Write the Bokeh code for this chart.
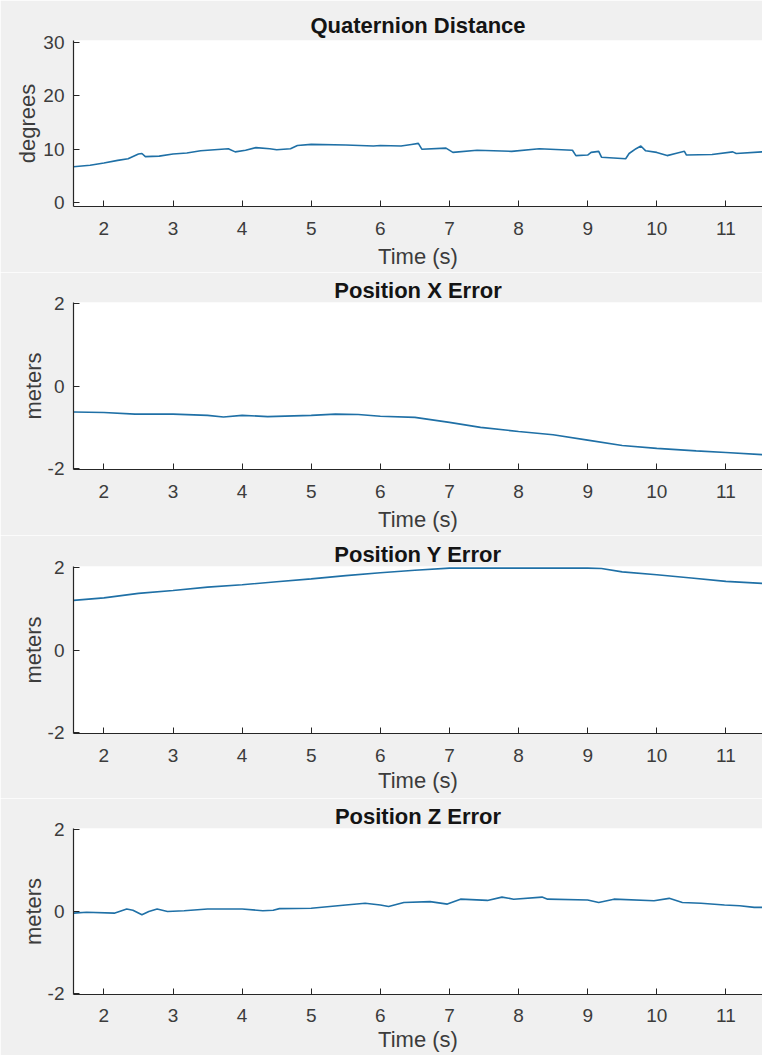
from bokeh.plotting import figure
from bokeh.layouts import column
from bokeh.models import Range1d, FixedTicker
from bokeh.embed import file_html
from bokeh.resources import INLINE

# ---- data ----
titles = ["Quaternion Distance", "Position X Error", "Position Y Error", "Position Z Error"]
ylabels = ["degrees", "meters", "meters", "meters"]
x_label = "Time (s)"
x_ticks = [2, 3, 4, 5, 6, 7, 8, 9, 10, 11]
q_ticks = [0, 10, 20, 30]
pos_ticks = [-2, 0, 2]

q_t = [1.56, 1.8, 2.0, 2.2, 2.35, 2.5, 2.55, 2.6, 2.8, 3.0, 3.2, 3.4, 3.6, 3.8, 3.9, 4.05,
       4.2, 4.4, 4.5, 4.7, 4.8, 5.0, 5.5, 5.9, 6.0, 6.3, 6.45, 6.55, 6.6, 6.95, 7.05, 7.4,
       7.9, 8.3, 8.78, 8.83, 9.0, 9.05, 9.16, 9.2, 9.55, 9.6, 9.7, 9.77, 9.84, 10.0, 10.15,
       10.3, 10.4, 10.43, 10.8, 11.1, 11.15, 11.53]
q_val = [6.7, 7.0, 7.4, 7.9, 8.2, 9.1, 9.2, 8.6, 8.7, 9.1, 9.3, 9.7, 9.9, 10.1, 9.5, 9.8,
         10.3, 10.1, 9.9, 10.1, 10.7, 10.9, 10.8, 10.6, 10.7, 10.6, 10.9, 11.1, 10.0, 10.2, 9.4, 9.8,
         9.6, 10.1, 9.8, 8.8, 8.9, 9.4, 9.6, 8.5, 8.2, 9.2, 10.1, 10.6, 9.7, 9.4, 8.8,
         9.3, 9.6, 8.9, 9.0, 9.5, 9.2, 9.5]

x_t = [1.56, 2.0, 2.45, 3.0, 3.5, 3.73, 4.0, 4.37, 5.0, 5.35, 5.68, 6.0, 6.5, 7.0, 7.45,
       8.0, 8.5, 9.0, 9.5, 10.0, 10.57, 11.0, 11.53]
x_err = [-0.63, -0.64, -0.68, -0.68, -0.71, -0.75, -0.71, -0.74, -0.71, -0.68, -0.69, -0.73,
         -0.76, -0.88, -1.0, -1.1, -1.18, -1.31, -1.44, -1.51, -1.57, -1.61, -1.66]

y_t = [1.56, 2.0, 2.5, 3.0, 3.5, 4.0, 4.5, 5.0, 5.5, 6.0, 6.5, 7.0, 8.0, 9.0, 9.2, 9.5,
       10.0, 10.5, 11.0, 11.53]
y_err = [1.2, 1.26, 1.37, 1.44, 1.52, 1.58, 1.65, 1.72, 1.8, 1.87, 1.93, 1.98, 1.98, 1.98,
         1.97, 1.89, 1.82, 1.74, 1.66, 1.61]

z_t = [1.56, 1.75, 2.15, 2.33, 2.42, 2.55, 2.65, 2.77, 2.92, 3.16, 3.5, 4.0, 4.3, 4.45, 4.54,
       5.0, 5.5, 5.78, 6.0, 6.12, 6.34, 6.72, 6.97, 7.16, 7.55, 7.76, 7.93, 8.34, 8.42, 9.0,
       9.16, 9.38, 9.96, 10.18, 10.37, 10.64, 10.98, 11.2, 11.41, 11.53]
z_err = [-0.04, -0.02, -0.04, 0.06, 0.03, -0.08, 0.0, 0.06, 0.0, 0.02, 0.06, 0.06, 0.02, 0.03,
         0.07, 0.08, 0.16, 0.2, 0.16, 0.12, 0.22, 0.24, 0.18, 0.3, 0.27, 0.35, 0.3, 0.35, 0.3,
         0.28, 0.22, 0.3, 0.26, 0.32, 0.22, 0.2, 0.16, 0.14, 0.1, 0.1]

series = [(q_t, q_val), (x_t, x_err), (y_t, y_err), (z_t, z_err)]
x_lim = (1.56, 11.53)
y_ranges = [(-0.75, 30.4), (-2.02, 2.02), (-2.02, 2.02), (-2.02, 2.02)]
y_tick_sets = [q_ticks, pos_ticks, pos_ticks, pos_ticks]

# ---- layout / style ----
heights = [272, 263, 263, 257]
tops = [40, 30, 31, 30]
bottoms = [66, 66, 65, 61]
title_standoffs = [6, 0, 0, 0]
tick_standoffs = [15, 15, 15, 14]
label_standoffs = [6, 6, 3, 2]
ylab_standoffs = [0, -1, -1, -1]
FONT = "Liberation Sans"
BG = "#f0f0f0"
AX = "#262626"
LINE = "#1f70a6"

figs = []
for i in range(4):
    p = figure(width=762, height=heights[i], output_backend="svg", toolbar_location=None,
               x_range=Range1d(*x_lim), y_range=Range1d(*y_ranges[i]),
               min_border_left=73, min_border_right=0,
               min_border_top=tops[i], min_border_bottom=bottoms[i],
               title=titles[i])
    p.border_fill_color = BG
    p.background_fill_color = "white"
    p.outline_line_color = None
    p.grid.visible = False

    p.title.align = "center"
    p.title.text_font = FONT
    p.title.text_font_size = "22px"
    p.title.text_font_style = "bold"
    p.title.text_color = "#141414"
    p.title.standoff = title_standoffs[i]

    t, v = series[i]
    p.line(t, v, line_color=LINE, line_width=1.6)

    for ax in (p.xaxis[0], p.yaxis[0]):
        ax.axis_line_color = AX
        ax.axis_line_width = 1.2
        ax.major_tick_line_color = AX
        ax.major_tick_in = 6
        ax.major_tick_out = 0
        ax.minor_tick_line_color = None
        ax.major_label_text_font = FONT
        ax.major_label_text_font_size = "19px"
        ax.major_label_text_color = "#3c3c3c"
        ax.axis_label_text_font = FONT
        ax.axis_label_text_font_size = "22px"
        ax.axis_label_text_font_style = "normal"
        ax.axis_label_text_color = "#3c3c3c"

    p.xaxis[0].ticker = FixedTicker(ticks=x_ticks)
    p.xaxis[0].major_label_standoff = tick_standoffs[i]
    p.xaxis[0].axis_label = x_label
    p.xaxis[0].axis_label_standoff = label_standoffs[i]

    yt = y_tick_sets[i]
    p.yaxis[0].ticker = FixedTicker(ticks=yt)
    p.yaxis[0].major_label_overrides = {k: str(k) for k in yt}
    p.yaxis[0].major_label_standoff = 9
    p.yaxis[0].axis_label = ylabels[i]
    p.yaxis[0].axis_label_standoff = ylab_standoffs[i]
    figs.append(p)

layout = column(*figs, spacing=0)
open("out.html", "w").write(file_html(layout, INLINE))
